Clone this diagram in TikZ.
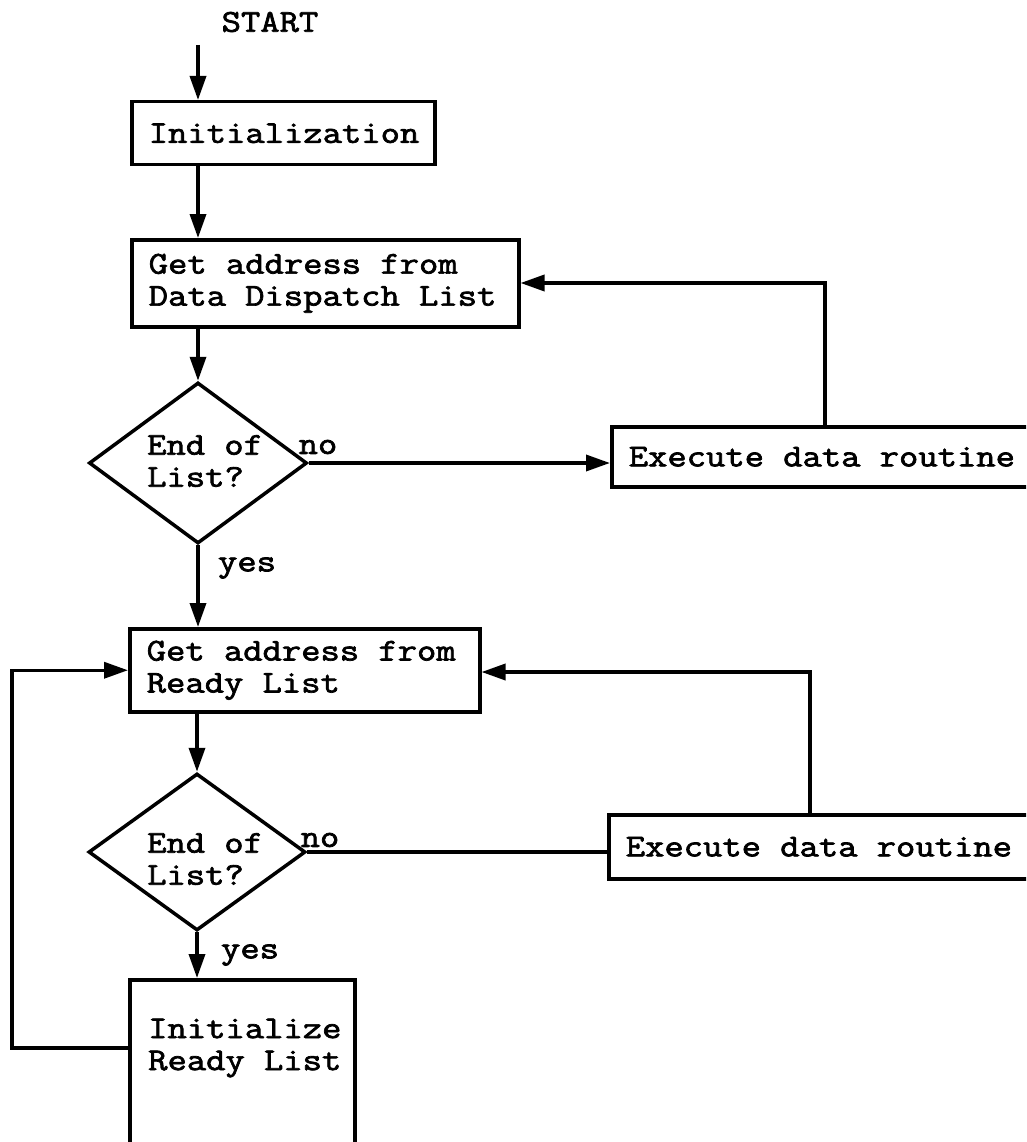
\documentclass[tikz,border=0pt]{standalone}
\usepackage{fontspec}
\newfontfamily\courfont[FakeStretch=1.18,FakeBold=2.2]{Latin Modern Mono}
\newcommand{\courset}{\fontsize{31.8}{32}\courfont}
\newcommand{\ws}{\hspace*{19.2pt}}
\usetikzlibrary{arrows.meta,shapes.geometric}
\begin{document}
\begin{tikzpicture}[x=1pt,y=-1pt,
  every node/.style={font=\courset},
  lw/.style={line width=3.5pt},
  flowbox/.style={draw,lw,anchor=north west,inner xsep=17pt,inner ysep=0pt,align=left},
  decision/.style={draw,lw,shape=diamond,inner sep=0pt},
  lbl/.style={inner sep=0pt},
  conn/.style={lw,-{Triangle[length=24pt,width=16pt]}},
  plain/.style={lw}]
\useasboundingbox (0,0) rectangle (1026,1142);
\clip (0,0) rectangle (1026,1142);
\fill[white] (0,0) rectangle (1026,1142);
% nodes
\node[lbl] (start) at (270,22) {START};
\coordinate (s0) at (198,45);
\node[flowbox,text width=269pt,minimum height=63pt] (init) at (130,100) {Initialization};
\node[flowbox,text width=353pt,minimum height=87pt] (ddl) at (130,238) {Get\ws address\ws from\\Data\ws Dispatch\ws List};
\node[decision,minimum width=218pt,minimum height=161pt] (d1) at (198,463) {};
\node[lbl,anchor=west,align=left] (d1t) at (147,461) {End\ws of\\List?};
\node[flowbox,text width=416pt,minimum height=60pt] (ex1) at (610,425) {Execute\ws data\ws routine};
\node[lbl] (no1) at (318,447) {no};
\node[lbl] (yes1) at (247,568) {yes};
\node[flowbox,text width=316pt,minimum height=83pt] (rdy) at (128,627) {Get\ws address\ws from\\Ready\ws List};
\node[decision,minimum width=217pt,minimum height=157pt] (d2) at (197,852) {};
\node[lbl,anchor=west,align=left] (d2t) at (147,859) {End\ws of\\List?};
\node[flowbox,text width=416pt,minimum height=64pt] (ex2) at (607,813) {Execute\ws data\ws routine};
\node[lbl] (no2) at (320,840) {no};
\node[lbl] (yes2) at (250,955) {yes};
\node[draw,lw,anchor=north west,minimum width=225pt,minimum height=230pt,inner sep=0pt] (irl) at (128,978) {};
\node[lbl,anchor=west,align=left] (irlt) at (148,1048) {Initialize\\Ready\ws List};
% helper coordinates
\coordinate (c1) at (825,283);
\coordinate (c2) at (810,672);
\coordinate (l1) at (12,1048);
% connectors
\draw[conn] (s0) -- (s0 |- init.north);
\draw[conn] (init.south -| s0) -- (ddl.north -| s0);
\draw[conn] (ddl.south -| d1.north) -- (d1.north);
\draw[conn] (d1.east) -- (d1.east -| ex1.west);
\draw[conn] (ex1.north -| c1) -- (c1) -- (c1 -| ddl.east);
\draw[conn] (d1.south) -- (d1.south |- rdy.north);
\draw[conn] (rdy.south -| d2.north) -- (d2.north);
\draw[plain] (d2.east) -- (d2.east -| ex2.west);
\draw[conn] (ex2.north -| c2) -- (c2) -- (c2 -| rdy.east);
\draw[conn] (d2.south) -- (d2.south |- irl.north);
\draw[conn] (irl.west |- l1) -- (l1) -- (l1 |- rdy.west) -- (rdy.west);
\end{tikzpicture}
\end{document}
